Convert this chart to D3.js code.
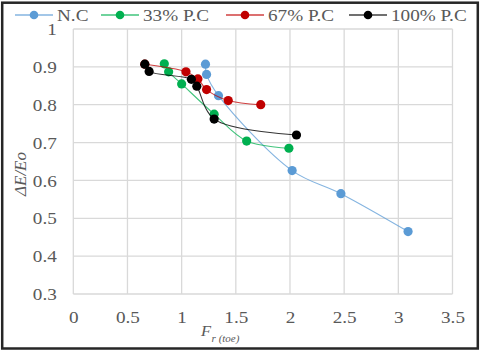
<!DOCTYPE html>
<html>
<head>
<meta charset="utf-8">
<script src="https://cdn.jsdelivr.net/npm/d3@7"></script>
<style>
  html, body { margin: 0; padding: 0; background: #fff; }
  svg { display: block; }
  text { font-family: "Liberation Serif", "Times New Roman", serif; fill: #595959; }
</style>
</head>
<body>
<div id="chart"></div>
<script>
// values
const seriesNames = ["N.C", "33% P.C", "67% P.C", "100% P.C"];
const seriesColors = ["#5b9bd5", "#00b050", "#c00000", "#000000"];

const ncX = [1.22, 1.23, 1.34, 2.02, 2.47, 3.09];
const ncY = [0.907, 0.880, 0.824, 0.626, 0.565, 0.465];

const pc33X = [0.84, 0.88, 1.00, 1.30, 1.60, 1.99];
const pc33Y = [0.908, 0.887, 0.855, 0.775, 0.704, 0.685];

const pc67X = [0.66, 1.04, 1.15, 1.23, 1.43, 1.73];
const pc67Y = [0.907, 0.887, 0.868, 0.840, 0.811, 0.800];

const pc100X = [0.66, 0.70, 1.09, 1.14, 1.30, 2.06];
const pc100Y = [0.907, 0.888, 0.867, 0.849, 0.762, 0.720];

const xTicks = [0, 0.5, 1, 1.5, 2, 2.5, 3, 3.5];
const yTicks = [0.3, 0.4, 0.5, 0.6, 0.7, 0.8, 0.9, 1];

const width = 480, height = 351;
const margin = {top: 29, right: 27.5, bottom: 57, left: 73.3};
const serif = "'Liberation Serif', 'Times New Roman', serif";

let svg = d3.select("#chart").append("svg")
  .attr("width", width)
  .attr("height", height);

let x = d3.scaleLinear().domain([0, 3.5]).range([margin.left, width - margin.right]);
let y = d3.scaleLinear().domain([0.3, 1]).range([height - margin.bottom, margin.top]);

// outer frame
svg.append("rect")
  .attr("x", 2.2).attr("y", 2.7)
  .attr("width", width - 4.4).attr("height", height - 5.2)
  .attr("fill", "none")
  .attr("stroke", "#262626")
  .attr("stroke-width", 2.5);

// gridlines
let grid = svg.append("g").attr("id", "grid");
grid.selectAll("line.v").data(xTicks).join("line")
  .attr("class", "v")
  .attr("x1", (d) => x(d)).attr("x2", (d) => x(d))
  .attr("y1", y(0.3)).attr("y2", y(1));
grid.selectAll("line.h").data(yTicks).join("line")
  .attr("class", "h")
  .attr("x1", x(0)).attr("x2", x(3.5))
  .attr("y1", (d) => y(d)).attr("y2", (d) => y(d));
grid.selectAll("line")
  .attr("stroke", "#d9d9d9")
  .attr("stroke-width", 1.3);

// tick labels through d3 axes, lines hidden
let xAxis = svg.append("g")
  .attr("transform", `translate(0,${y(0.3) + 14})`)
  .call(d3.axisBottom(x).tickValues(xTicks).tickSize(0).tickFormat(d3.format("")));
let yAxis = svg.append("g")
  .attr("transform", `translate(${x(0) - 16.5},0)`)
  .call(d3.axisLeft(y).tickValues(yTicks).tickSize(0).tickFormat(d3.format("")));

[xAxis, yAxis].forEach((ax) => {
  ax.attr("font-family", serif).attr("font-size", 17);
  ax.select(".domain").remove();
  ax.selectAll("text")
    .attr("fill", "#595959")
    .attr("x", 0)
    .attr("transform", "scale(1.13,1)"); // the picture's text runs a little wide
});
xAxis.selectAll("text").attr("dy", "0.71em");
yAxis.selectAll("text").attr("dy", "0.33em");

// series
const series = [
  {name: seriesNames[0], color: seriesColors[0], xs: ncX, ys: ncY},
  {name: seriesNames[1], color: seriesColors[1], xs: pc33X, ys: pc33Y},
  {name: seriesNames[2], color: seriesColors[2], xs: pc67X, ys: pc67Y},
  {name: seriesNames[3], color: seriesColors[3], xs: pc100X, ys: pc100Y}
];

let line = d3.line()
  .x((d) => x(d[0]))
  .y((d) => y(d[1]))
  .curve(d3.curveCatmullRom.alpha(0.5));

let plot = svg.append("g").attr("id", "series");
series.forEach((s) => {
  let pts = s.xs.map((v, i) => [v, s.ys[i]]);
  let g = plot.append("g");
  g.append("path")
    .attr("d", line(pts))
    .attr("fill", "none")
    .attr("stroke", s.color)
    .attr("stroke-opacity", s.color == "#000000" ? 0.8 : 0.75)
    .attr("stroke-width", 1.1);
  g.selectAll("circle").data(pts).join("circle")
    .attr("cx", (d) => x(d[0]))
    .attr("cy", (d) => y(d[1]))
    .attr("r", 4.6)
    .attr("fill", s.color);
});

// legend
const legendX = [15, 101, 226, 349];
let legend = svg.append("g").attr("id", "legend");
series.forEach((s, i) => {
  let lg = legend.append("g").attr("transform", `translate(${legendX[i]},15)`);
  lg.append("line")
    .attr("x1", 0).attr("x2", 38)
    .attr("y1", 0).attr("y2", 0)
    .attr("stroke", s.color)
    .attr("stroke-opacity", 0.75)
    .attr("stroke-width", 1.3);
  lg.append("circle")
    .attr("cx", 19).attr("cy", 0).attr("r", 4.3)
    .attr("fill", s.color);
  lg.append("text")
    .attr("transform", "translate(42,5.7) scale(1.2,1)")
    .attr("font-family", serif)
    .attr("font-size", 16)
    .text(s.name);
});

// axis titles
let xt = svg.append("text")
  .attr("transform", "translate(201,336) scale(1.1,1)")
  .attr("font-family", serif)
  .attr("font-style", "italic");
xt.append("tspan").attr("font-size", 15).text("F");
xt.append("tspan").attr("dx", 0.5).attr("dy", 6).attr("font-size", 10).text("r (toe)");

svg.append("text")
  .attr("transform", "translate(26,174) rotate(-90)")
  .attr("text-anchor", "middle")
  .attr("font-family", serif)
  .attr("font-style", "italic")
  .attr("font-size", 17)
  .text("ΔE/Eo");
</script>
</body>
</html>
